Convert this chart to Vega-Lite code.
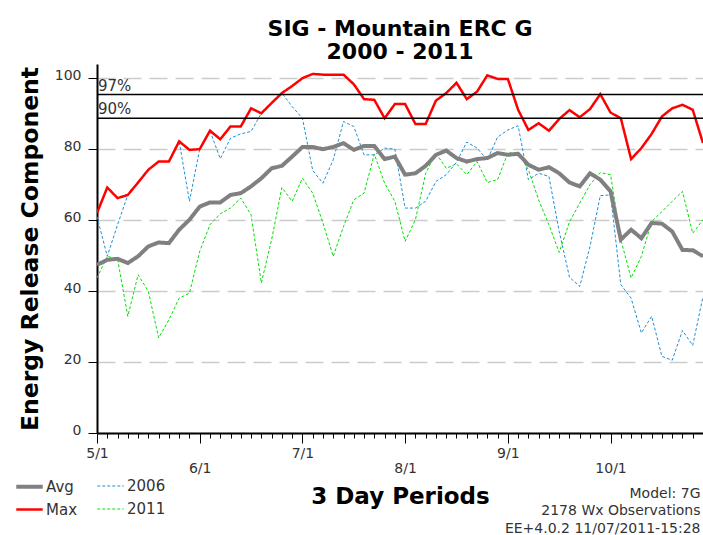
{
  "$schema": "https://vega.github.io/schema/vega-lite/v6.json",
  "width": 606,
  "height": 369,
  "autosize": {"type": "none"},
  "padding": {"left": 97, "top": 64, "right": 0, "bottom": 102},
  "background": "white",
  "title": {
    "text": ["SIG - Mountain ERC G", "2000 - 2011"],
    "font": "DejaVu Sans", "fontSize": 22, "fontWeight": "bold", "color": "black",
    "anchor": "middle", "frame": "group", "lineHeight": 23, "offset": 0
  },
  "config": {"view": {"stroke": null}},
  "datasets": {
    "erc": [
      {"period": 0, "Avg": 47.4, "Max": 62.0, "2006": 61.0, "2011": 43.7},
      {"period": 1, "Avg": 48.8, "Max": 69.2, "2006": 49.8, "2011": 49.8},
      {"period": 2, "Avg": 49.1, "Max": 66.2, "2006": 58.7, "2011": 49.0},
      {"period": 3, "Avg": 47.9, "Max": 67.1, "2006": 67.1, "2011": 32.9},
      {"period": 4, "Avg": 49.8, "Max": 70.6, "2006": 70.6, "2011": 44.6},
      {"period": 5, "Avg": 52.6, "Max": 74.2, "2006": 74.2, "2011": 39.9},
      {"period": 6, "Avg": 53.7, "Max": 76.5, "2006": 76.5, "2011": 26.8},
      {"period": 7, "Avg": 53.5, "Max": 76.5, "2006": 76.5, "2011": 31.9},
      {"period": 8, "Avg": 57.3, "Max": 82.2, "2006": 82.2, "2011": 38.0},
      {"period": 9, "Avg": 60.1, "Max": 79.8, "2006": 65.3, "2011": 39.4},
      {"period": 10, "Avg": 63.8, "Max": 80.0, "2006": 80.0, "2011": 51.2},
      {"period": 11, "Avg": 65.0, "Max": 85.2, "2006": 85.2, "2011": 58.7},
      {"period": 12, "Avg": 65.0, "Max": 82.8, "2006": 77.3, "2011": 61.8},
      {"period": 13, "Avg": 67.1, "Max": 86.4, "2006": 83.1, "2011": 63.4},
      {"period": 14, "Avg": 67.6, "Max": 86.4, "2006": 84.3, "2011": 66.2},
      {"period": 15, "Avg": 69.5, "Max": 91.5, "2006": 85.0, "2011": 61.5},
      {"period": 16, "Avg": 71.8, "Max": 90.1, "2006": 90.1, "2011": 42.3},
      {"period": 17, "Avg": 74.6, "Max": 93.0, "2006": 93.0, "2011": 54.5},
      {"period": 18, "Avg": 75.3, "Max": 95.8, "2006": 95.8, "2011": 69.2},
      {"period": 19, "Avg": 77.9, "Max": 97.8, "2006": 92.0, "2011": 65.3},
      {"period": 20, "Avg": 80.6, "Max": 100.0, "2006": 88.7, "2011": 71.8},
      {"period": 21, "Avg": 80.6, "Max": 101.2, "2006": 74.0, "2011": 67.6},
      {"period": 22, "Avg": 80.0, "Max": 101.0, "2006": 70.4, "2011": 59.2},
      {"period": 23, "Avg": 80.6, "Max": 101.0, "2006": 77.0, "2011": 49.8},
      {"period": 24, "Avg": 81.7, "Max": 101.0, "2006": 87.8, "2011": 58.2},
      {"period": 25, "Avg": 79.8, "Max": 98.3, "2006": 86.4, "2011": 65.7},
      {"period": 26, "Avg": 80.9, "Max": 94.1, "2006": 78.4, "2011": 67.6},
      {"period": 27, "Avg": 80.9, "Max": 93.9, "2006": 78.4, "2011": 78.6},
      {"period": 28, "Avg": 77.2, "Max": 88.7, "2006": 80.3, "2011": 70.4},
      {"period": 29, "Avg": 77.9, "Max": 92.7, "2006": 80.0, "2011": 65.3},
      {"period": 30, "Avg": 72.8, "Max": 92.7, "2006": 63.4, "2011": 54.0},
      {"period": 31, "Avg": 73.2, "Max": 87.1, "2006": 63.4, "2011": 60.1},
      {"period": 32, "Avg": 75.3, "Max": 87.1, "2006": 65.3, "2011": 73.2},
      {"period": 33, "Avg": 78.4, "Max": 93.7, "2006": 70.9, "2011": 78.9},
      {"period": 34, "Avg": 79.6, "Max": 95.8, "2006": 72.8, "2011": 74.6},
      {"period": 35, "Avg": 77.5, "Max": 98.7, "2006": 76.3, "2011": 75.9},
      {"period": 36, "Avg": 76.5, "Max": 94.1, "2006": 82.0, "2011": 72.8},
      {"period": 37, "Avg": 77.2, "Max": 96.2, "2006": 80.3, "2011": 76.5},
      {"period": 38, "Avg": 77.5, "Max": 100.8, "2006": 77.0, "2011": 70.6},
      {"period": 39, "Avg": 78.9, "Max": 99.8, "2006": 83.4, "2011": 71.4},
      {"period": 40, "Avg": 78.4, "Max": 99.8, "2006": 85.4, "2011": 78.9},
      {"period": 41, "Avg": 78.7, "Max": 91.1, "2006": 86.6, "2011": 79.0},
      {"period": 42, "Avg": 75.6, "Max": 85.4, "2006": 71.4, "2011": 74.2},
      {"period": 43, "Avg": 74.2, "Max": 87.3, "2006": 73.2, "2011": 65.7},
      {"period": 44, "Avg": 74.9, "Max": 85.2, "2006": 72.3, "2011": 58.7},
      {"period": 45, "Avg": 73.2, "Max": 88.5, "2006": 56.8, "2011": 50.9},
      {"period": 46, "Avg": 70.6, "Max": 91.0, "2006": 43.9, "2011": 59.5},
      {"period": 47, "Avg": 69.5, "Max": 89.0, "2006": 41.3, "2011": 64.8},
      {"period": 48, "Avg": 73.2, "Max": 91.3, "2006": 52.6, "2011": 70.0},
      {"period": 49, "Avg": 71.4, "Max": 95.5, "2006": 66.9, "2011": 73.4},
      {"period": 50, "Avg": 68.1, "Max": 90.3, "2006": 67.1, "2011": 72.8},
      {"period": 51, "Avg": 54.5, "Max": 88.7, "2006": 41.8, "2011": 54.5},
      {"period": 52, "Avg": 57.3, "Max": 77.2, "2006": 38.0, "2011": 43.7},
      {"period": 53, "Avg": 54.9, "Max": 80.3, "2006": 28.2, "2011": 49.8},
      {"period": 54, "Avg": 59.2, "Max": 84.3, "2006": 32.9, "2011": 59.6},
      {"period": 55, "Avg": 59.0, "Max": 89.2, "2006": 21.6, "2011": 62.4},
      {"period": 56, "Avg": 56.8, "Max": 91.5, "2006": 20.5, "2011": 65.3},
      {"period": 57, "Avg": 51.6, "Max": 92.5, "2006": 28.9, "2011": 68.1},
      {"period": 58, "Avg": 51.5, "Max": 91.1, "2006": 24.7, "2011": 56.3},
      {"period": 59, "Avg": 49.8, "Max": 81.7, "2006": 38.5, "2011": 60.1}
    ],
    "pct": [
      {"label": "97%", "v": 95.4},
      {"label": "90%", "v": 88.7}
    ]
  },
  "layer": [
    {
      "data": {"name": "erc"},
      "transform": [{"fold": ["2011", "2006", "Avg", "Max"], "as": ["series", "value"]}],
      "mark": {"type": "line", "clip": true},
      "encoding": {
        "x": {
          "field": "period", "type": "quantitative",
          "scale": {"domain": [0, 59], "nice": false, "zero": false},
          "axis": {
            "orient": "bottom",
            "values": [0,1,2,3,4,5,6,7,8,9,10,11,12,13,14,15,16,17,18,19,20,21,22,23,24,25,26,27,28,29,30,31,32,33,34,35,36,37,38,39,40,41,42,43,44,45,46,47,48,49,50,51,52,53,54,55,56,57,58,59],
            "title": "3 Day Periods",
            "titleFont": "DejaVu Sans", "titleFontSize": 23, "titleFontWeight": "bold", "titleColor": "black",
            "titleBaseline": "middle", "titleY": 63,
            "labelExpr": "datum.value % 10 == 0 ? ['5/1','6/1','7/1','8/1','9/1','10/1'][datum.value / 10] : ''",
            "labelFont": "DejaVu Sans", "labelFontSize": 14, "labelColor": "#333333",
            "labelBaseline": "top", "labelAlign": "center",
            "labelPadding": {"condition": {"test": "datum.value % 20 == 10", "value": 18}, "value": 3},
            "tickSize": {"condition": {"test": "datum.value % 10 == 0", "value": 10}, "value": 5},
            "tickColor": "black", "domainColor": "black", "domainWidth": 2,
            "grid": false, "labelOverlap": false, "labelBound": false, "labelFlush": false
          }
        },
        "y": {
          "field": "value", "type": "quantitative",
          "scale": {"domain": [0, 104], "nice": false},
          "axis": {
            "values": [0, 20, 40, 60, 80, 100],
            "title": "Energy Release Component",
            "titleFont": "DejaVu Sans", "titleFontSize": 23.5, "titleFontWeight": "bold", "titleColor": "black",
            "titleAngle": 270, "titleBaseline": "middle", "titleX": -67,
            "labelFont": "DejaVu Sans", "labelFontSize": 14, "labelColor": "#333333",
            "labelBaseline": "middle", "labelOffset": -3, "labelPadding": 7,
            "tickSize": 9, "tickColor": "black", "domainColor": "black", "domainWidth": 2,
            "grid": true, "gridColor": "#cccccc", "gridDash": [18, 8], "gridWidth": 1.5
          }
        },
        "color": {
          "field": "series", "type": "nominal",
          "scale": {"domain": ["Avg", "Max", "2006", "2011"], "range": ["#808080", "#ff0000", "#1f8fd6", "#00e000"]},
          "legend": {
            "title": null, "orient": "none", "legendX": -83, "legendY": 407,
            "columns": 2, "symbolType": "stroke", "symbolSize": 700,
            "labelFont": "DejaVu Sans", "labelFontSize": 15, "labelColor": "#333333",
            "columnPadding": 17, "rowPadding": -11, "labelOffset": 1
          }
        },
        "strokeDash": {
          "field": "series", "type": "nominal",
          "scale": {"domain": ["Avg", "Max", "2006", "2011"], "range": [[1, 0], [1, 0], [3, 2], [3, 2]]}
        },
        "strokeWidth": {
          "field": "series", "type": "nominal",
          "scale": {"type": "ordinal", "domain": ["Avg", "Max", "2006", "2011"], "range": [4, 2.5, 1, 1]}
        }
      }
    },
    {
      "data": {"name": "pct"},
      "layer": [
        {
          "mark": {"type": "rule", "color": "black", "strokeWidth": 1.5},
          "encoding": {"y": {"field": "v", "type": "quantitative"}}
        },
        {
          "mark": {"type": "text", "align": "left", "baseline": "bottom", "dx": 1, "dy": -1, "font": "DejaVu Sans", "fontSize": 15, "color": "#333333"},
          "encoding": {
            "x": {
              "datum": 0, "type": "quantitative",
              "axis": {
                "orient": "bottom",
                "title": ["Model: 7G", "2178 Wx Observations", "EE+4.0.2 11/07/2011-15:28"],
                "titleFont": "DejaVu Sans", "titleFontSize": 14, "titleFontWeight": "normal", "titleColor": "#333333",
                "titleAlign": "right", "titleAnchor": "end", "titleX": 603, "titleY": 53,
                "titleBaseline": "top", "titleLineHeight": 17.5,
                "labels": false, "ticks": false, "domain": false, "grid": false
              }
            },
            "y": {"field": "v", "type": "quantitative"},
            "text": {"field": "label"}
          }
        }
      ]
    }
  ],
  "resolve": {"axis": {"x": "independent"}}
}
